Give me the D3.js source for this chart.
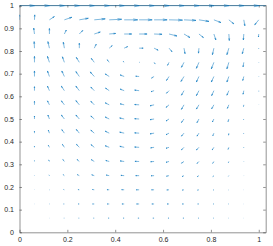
<!DOCTYPE html>
<html>
<head>
<meta charset="utf-8">
<script src="https://cdn.jsdelivr.net/npm/d3@7"></script>
<style>
  body { margin: 0; background: #fff; }
  svg { display: block; font-family: "Liberation Sans", Arial, sans-serif; }
</style>
</head>
<body>
<div id="canvas"></div>
<script>
// grid points (x and y are the same)
var gridX = [0, 0.0625, 0.125, 0.1875, 0.25, 0.3125, 0.375, 0.4375, 0.5, 0.5625, 0.625, 0.6875, 0.75, 0.8125, 0.875, 0.9375, 1];
var gridY = [0, 0.0625, 0.125, 0.1875, 0.25, 0.3125, 0.375, 0.4375, 0.5, 0.5625, 0.625, 0.6875, 0.75, 0.8125, 0.875, 0.9375, 1];

var xTicks = [0, 0.2, 0.4, 0.6, 0.8, 1];
var xTickLabels = ["0", "0.2", "0.4", "0.6", "0.8", "1"];
var yTicks = [0, 0.1, 0.2, 0.3, 0.4, 0.5, 0.6, 0.7, 0.8, 0.9, 1];
var yTickLabels = ["0", "0.1", "0.2", "0.3", "0.4", "0.5", "0.6", "0.7", "0.8", "0.9", "1"];

// u component, rows from top (y=1) to bottom (y=0)
var U = [
  [1, 1, 1, 1, 1, 1, 1, 1, 1, 1, 1, 1, 1, 1, 1, 1, 1],
  [0, 0.02, 0.33, 0.5, 0.6, 0.73, 0.83, 0.9, 0.87, 0.87, 0.9, 0.8, 0.67, 0.47, 0.33, 0.07, -0.27],
  [0, -0.05, 0, 0.13, 0.23, 0.4, 0.43, 0.5, 0.53, 0.53, 0.53, 0.4, 0.3, 0.13, 0.03, -0.03, -0.02],
  [0, -0.02, -0.1, -0.07, 0, 0.13, 0.2, 0.23, 0.27, 0.27, 0.2, 0.07, -0.03, -0.1, -0.13, -0.1, -0.01],
  [0, 0, -0.13, -0.13, -0.2, -0.2, -0.13, -0.07, 0.03, 0.07, -0.1, -0.17, -0.17, -0.17, -0.13, -0.05, 0],
  [0, 0, -0.13, -0.17, -0.23, -0.27, -0.27, -0.27, -0.23, -0.17, -0.17, -0.2, -0.17, -0.17, -0.13, -0.07, 0],
  [0, 0, -0.13, -0.2, -0.23, -0.23, -0.25, -0.27, -0.3, -0.2, -0.17, -0.17, -0.17, -0.15, -0.13, -0.05, 0],
  [0, 0, -0.13, -0.2, -0.23, -0.23, -0.27, -0.27, -0.3, -0.27, -0.2, -0.17, -0.17, -0.15, -0.1, -0.02, 0],
  [0, 0, -0.1, -0.2, -0.23, -0.23, -0.27, -0.3, -0.3, -0.27, -0.2, -0.17, -0.13, -0.1, -0.05, -0.02, 0],
  [0, 0, -0.07, -0.17, -0.2, -0.23, -0.27, -0.3, -0.3, -0.27, -0.2, -0.17, -0.13, -0.07, -0.02, -0.02, 0],
  [0, 0, -0.07, -0.13, -0.19, -0.22, -0.27, -0.29, -0.3, -0.23, -0.2, -0.17, -0.17, -0.11, -0.05, -0.02, 0],
  [0, 0, -0.05, -0.1, -0.15, -0.2, -0.23, -0.27, -0.28, -0.23, -0.2, -0.17, -0.13, -0.08, -0.03, -0.01, 0],
  [0, 0, -0.03, -0.08, -0.13, -0.17, -0.2, -0.22, -0.23, -0.2, -0.17, -0.13, -0.11, -0.07, -0.03, -0.01, 0],
  [0, 0, -0.02, -0.05, -0.09, -0.12, -0.15, -0.17, -0.19, -0.17, -0.15, -0.11, -0.09, -0.05, -0.02, -0.01, 0],
  [0, -0.01, -0.02, -0.05, -0.08, -0.11, -0.13, -0.15, -0.17, -0.15, -0.13, -0.11, -0.08, -0.05, -0.03, -0.01, 0],
  [0, 0, -0.01, -0.03, -0.04, -0.05, -0.07, -0.07, -0.08, -0.08, -0.07, -0.07, -0.05, -0.04, -0.02, -0.01, 0],
  [0, 0, 0, 0, 0, 0, 0, 0, 0, 0, 0, 0, 0, 0, 0, 0, 0]
];

// v component, same layout
var V = [
  [0, 0, 0, 0, 0, 0, 0, 0, 0, 0, 0, 0, 0, 0, 0, 0, 0],
  [0.35, 0.35, 0.23, 0.18, 0.11, 0.07, 0.04, 0, 0, 0, -0.02, -0.04, -0.11, -0.19, -0.28, -0.42, -0.35],
  [0, 0.42, 0.39, 0.28, 0.25, 0.14, 0.04, 0, 0, -0.02, -0.14, -0.25, -0.25, -0.42, -0.46, -0.42, -0.21],
  [0, 0.46, 0.46, 0.42, 0.35, 0.28, 0.18, 0.11, 0, -0.14, -0.25, -0.39, -0.35, -0.46, -0.46, -0.39, -0.04],
  [0, 0.42, 0.42, 0.39, 0.35, 0.28, 0.18, 0.07, 0, -0.11, -0.21, -0.35, -0.42, -0.46, -0.46, -0.32, -0.02],
  [0, 0.39, 0.39, 0.39, 0.35, 0.32, 0.18, 0.11, 0.02, -0.11, -0.28, -0.35, -0.39, -0.39, -0.39, -0.28, -0.02],
  [0, 0.28, 0.32, 0.32, 0.32, 0.25, 0.18, 0.11, 0.04, -0.07, -0.18, -0.32, -0.35, -0.35, -0.32, -0.25, -0.04],
  [0, 0.25, 0.28, 0.28, 0.3, 0.25, 0.14, 0.07, 0.02, -0.07, -0.18, -0.32, -0.3, -0.28, -0.25, -0.11, -0.01],
  [0, 0.21, 0.28, 0.28, 0.28, 0.21, 0.14, 0.07, 0.02, -0.05, -0.14, -0.25, -0.26, -0.21, -0.18, -0.05, 0],
  [0, 0.14, 0.21, 0.25, 0.26, 0.21, 0.14, 0.07, 0.02, -0.05, -0.11, -0.21, -0.21, -0.18, -0.14, -0.04, 0],
  [0, 0.09, 0.14, 0.21, 0.21, 0.19, 0.11, 0.07, 0.02, -0.04, -0.07, -0.18, -0.19, -0.18, -0.14, -0.04, 0],
  [0, 0.06, 0.11, 0.14, 0.14, 0.13, 0.07, 0.04, 0.01, -0.02, -0.06, -0.12, -0.14, -0.13, -0.08, -0.02, 0],
  [0, 0.02, 0.05, 0.07, 0.07, 0.06, 0.04, 0.02, 0, -0.01, -0.04, -0.07, -0.07, -0.07, -0.04, -0.01, 0],
  [0, 0.01, 0.01, 0.02, 0.02, 0.02, 0.01, 0.01, 0, 0, -0.01, -0.02, -0.02, -0.02, -0.01, 0, 0],
  [0, 0, 0, 0, 0, 0, 0, 0, 0, 0, 0, 0, 0, 0, 0, 0, 0],
  [0, 0, 0, 0, 0, 0, 0, 0, 0, 0, 0, 0, 0, 0, 0, 0, 0],
  [0, 0, 0, 0, 0, 0, 0, 0, 0, 0, 0, 0, 0, 0, 0, 0, 0]
];

var width = 273, height = 246;
var plotLeft = 19.5, plotRight = 265.7, plotTop = 5, plotBottom = 232.3;

var svgContainer = d3.select("#canvas").append("svg")
  .attr("width", width)
  .attr("height", height);

var x = d3.scaleLinear().domain([0, 1.029]).range([plotLeft, plotRight]);
var y = d3.scaleLinear().domain([0, 1.003]).range([plotBottom, plotTop]);

// axes with inward ticks on all four sides
function styleAxis(g) {
  g.selectAll("path, line").attr("stroke", "#262626").attr("stroke-width", 0.5);
  g.selectAll("text").attr("fill", "#262626").style("font-size", "7px")
    .style("font-family", "'Liberation Sans', Arial, sans-serif");
}

svgContainer.append("g")
  .attr("transform", "translate(0," + plotBottom + ")")
  .call(d3.axisBottom(x).tickValues(xTicks)
    .tickFormat(function(d, i) { return xTickLabels[i]; })
    .tickSizeInner(-2.5).tickSizeOuter(0).tickPadding(4.5))
  .call(styleAxis);

svgContainer.append("g")
  .attr("transform", "translate(0," + plotTop + ")")
  .call(d3.axisTop(x).tickValues(xTicks).tickFormat("")
    .tickSizeInner(-2.5).tickSizeOuter(0))
  .call(styleAxis);

svgContainer.append("g")
  .attr("transform", "translate(" + plotLeft + ",0)")
  .call(d3.axisLeft(y).tickValues(yTicks)
    .tickFormat(function(d, i) { return yTickLabels[i]; })
    .tickSizeInner(-2.5).tickSizeOuter(0).tickPadding(5.5))
  .call(styleAxis);

svgContainer.append("g")
  .attr("transform", "translate(" + plotRight + ",0)")
  .call(d3.axisRight(y).tickValues(yTicks).tickFormat("")
    .tickSizeInner(-2.5).tickSizeOuter(0))
  .call(styleAxis);

// quiver arrows
svgContainer.append("clipPath").attr("id", "plotclip")
  .append("rect")
  .attr("x", plotLeft).attr("y", plotTop - 2)
  .attr("width", plotRight - plotLeft).attr("height", plotBottom - plotTop + 2);

var arrows = [];
U.forEach(function(row, r) {
  row.forEach(function(u, c) {
    arrows.push({ x: gridX[c], y: gridY[gridY.length - 1 - r], u: u, v: V[r][c] });
  });
});

var scale = 0.0627;   // autoscale factor, data units per unit velocity
var alpha = 0.33, beta = 0.23;

function arrowPath(d) {
  var u = d.u * scale, v = d.v * scale;
  if (u === 0 && v === 0) return "";
  var tx = d.x + u, ty = d.y + v;
  var h1x = tx - alpha * (u + beta * v), h1y = ty - alpha * (v - beta * u);
  var h2x = tx - alpha * (u - beta * v), h2y = ty - alpha * (v + beta * u);
  return "M" + x(d.x) + "," + y(d.y) + "L" + x(tx) + "," + y(ty) +
    "M" + x(h1x) + "," + y(h1y) + "L" + x(tx) + "," + y(ty) + "L" + x(h2x) + "," + y(h2y);
}

svgContainer.append("g")
  .attr("clip-path", "url(#plotclip)")
  .selectAll("path")
  .data(arrows)
  .enter().append("path")
  .attr("d", arrowPath)
  .attr("fill", "none")
  .attr("stroke", "#0072BD")
  .attr("stroke-width", 0.5);
</script>
</body>
</html>
